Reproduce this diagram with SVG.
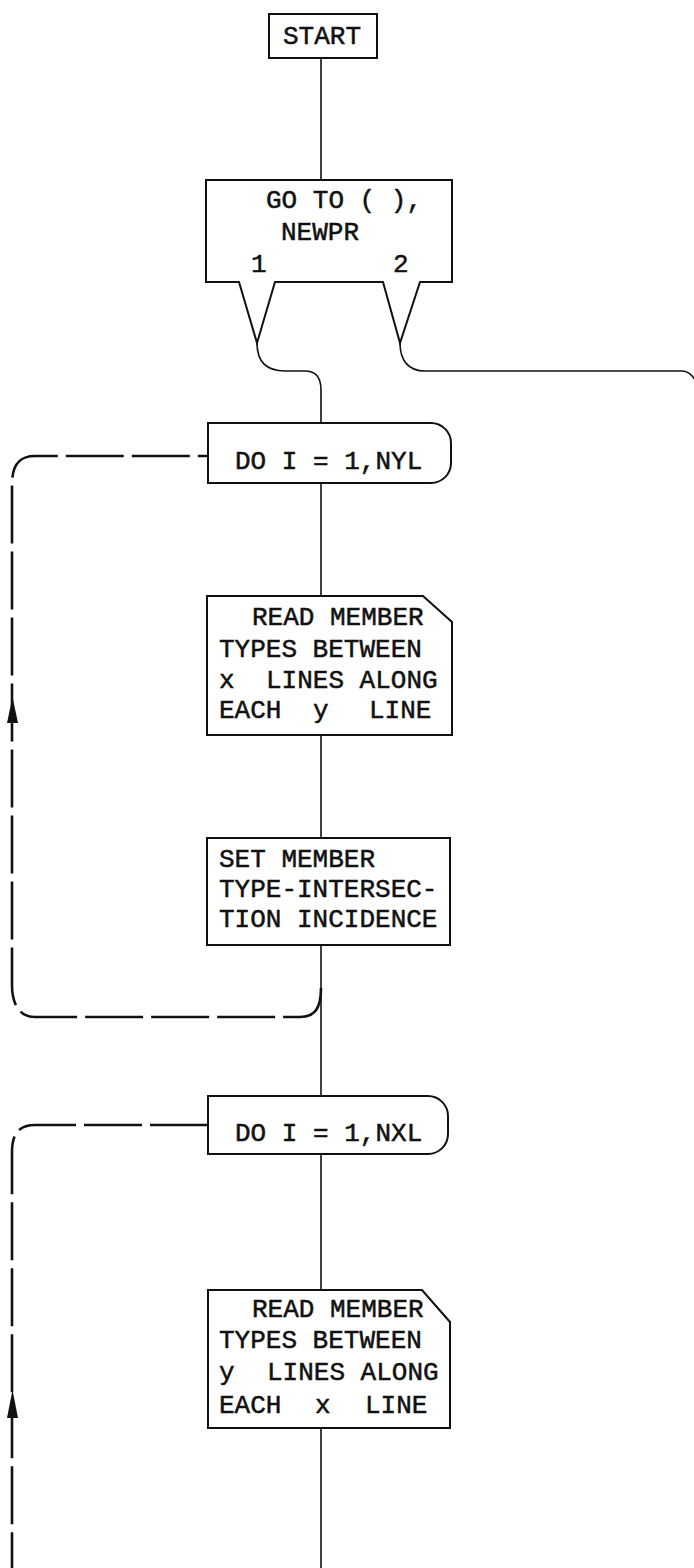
<svg xmlns="http://www.w3.org/2000/svg" width="694" height="1568" viewBox="0 0 694 1568">
<style>
.box{fill:#fff;stroke:#111;stroke-width:2}
.ln{fill:none;stroke:#111;stroke-width:1.6}
.dash{fill:none;stroke:#111;stroke-width:2.6;stroke-dasharray:58 8}
.t{font-family:"Liberation Mono","Courier New",monospace;font-size:26px;fill:#111;stroke:#111;stroke-width:0.5}
.arr{fill:#111}
</style>
<rect width="694" height="1568" fill="#fff"/>
<g id="connectors">
<line class="ln" x1="321" y1="58" x2="321" y2="180"/>
<path class="ln" d="M257,343 C257,362 267,371 285,371 L305,371 C316,371 321,378 321,390 L321,423"/>
<path class="ln" d="M400,343 C400,360 408,371 425,371 L682,371 C689,371 694,377 697,384"/>
<line class="ln" x1="321" y1="483" x2="321" y2="596"/>
<line class="ln" x1="321" y1="735" x2="321" y2="838"/>
<line class="ln" x1="321" y1="945" x2="321" y2="1096"/>
<line class="ln" x1="321" y1="1154" x2="321" y2="1290"/>
<line class="ln" x1="321" y1="1428" x2="321" y2="1568"/>
<path class="dash" d="M321,988 C321,1008 315,1017 300,1017 L35,1017 C20,1017 12,1005 12,985 L12,485 C12,466 18,456 35,456 L208,456"/>
<polygon class="arr" points="12.5,697 7,723 18,723"/>
<path class="dash" d="M208,1125 L35,1125 C18,1125 12,1135 12,1152 L12,1568"/>
<polygon class="arr" points="12.5,1390 7,1418 18,1418"/>
</g>
<g id="start">
<rect class="box" x="269" y="14" width="108" height="44"/>
<text class="t" x="283" y="44">START</text>
</g>
<g id="goto">
<path class="box" d="M206,180 H452 V282 H420 L400,343 L383,282 H275 L257,343 L239,282 H206 Z"/>
<text class="t" x="266" y="208">GO TO ( ),</text>
<text class="t" x="281" y="240">NEWPR</text>
<text class="t" x="251" y="272">1</text>
<text class="t" x="393" y="272">2</text>
</g>
<g id="do1">
<path class="box" d="M208,423 H431 A20,20 0 0 1 451,443 V463 A20,20 0 0 1 431,483 H208 Z"/>
<text class="t" x="235" y="469">DO I = 1,NYL</text>
</g>
<g id="read1">
<path class="box" d="M207,596 H423 L452,622 V735 H207 Z"/>
<text class="t" x="252" y="625">READ MEMBER</text>
<text class="t" x="219" y="657">TYPES BETWEEN</text>
<text class="t" y="688"><tspan x="219">x</tspan><tspan x="266">LINES ALONG</tspan></text>
<text class="t" y="718"><tspan x="219">EACH</tspan><tspan x="313">y</tspan><tspan x="369">LINE</tspan></text>
</g>
<g id="set">
<rect class="box" x="207" y="838" width="243" height="107"/>
<text class="t" x="219" y="867">SET MEMBER</text>
<text class="t" x="219" y="897">TYPE-INTERSEC-</text>
<text class="t" x="219" y="927">TION INCIDENCE</text>
</g>
<g id="do2">
<path class="box" d="M208,1096 H428 A20,20 0 0 1 448,1116 V1134 A20,20 0 0 1 428,1154 H208 Z"/>
<text class="t" x="235" y="1141">DO I = 1,NXL</text>
</g>
<g id="read2">
<path class="box" d="M208,1290 H422 L450,1322 V1428 H208 Z"/>
<text class="t" x="252" y="1317">READ MEMBER</text>
<text class="t" x="219" y="1348">TYPES BETWEEN</text>
<text class="t" y="1380"><tspan x="219">y</tspan><tspan x="267">LINES ALONG</tspan></text>
<text class="t" y="1413"><tspan x="219">EACH</tspan><tspan x="315">x</tspan><tspan x="365">LINE</tspan></text>
</g>
</svg>
